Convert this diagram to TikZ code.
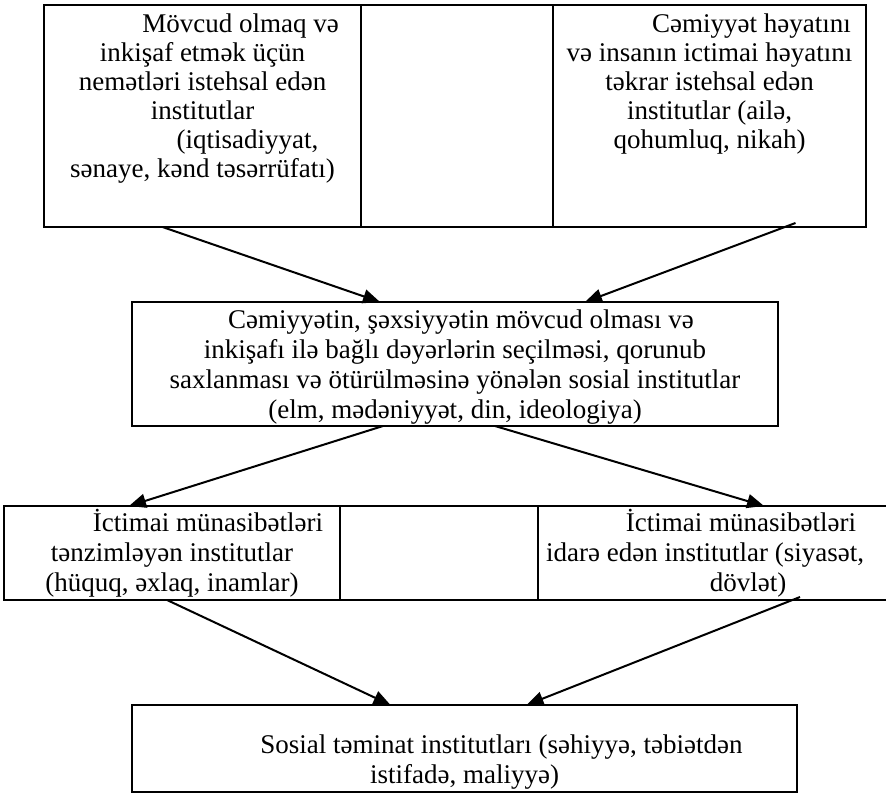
\documentclass[tikz,border=0pt]{standalone}
\usepackage{fontspec}
\setmainfont{Liberation Serif}
\usetikzlibrary{positioning,arrows.meta}

\begin{document}
\begin{tikzpicture}[x=1pt,y=1pt,
          cell/.style={draw, line width=1pt, inner sep=0pt, outer sep=0pt},
          txt/.style={align=center, inner sep=0pt, font=\fontsize{13.5}{14.5}\selectfont},
          widetxt/.style={txt, font=\fontsize{13.5}{15}\selectfont},
          arr/.style={line width=1pt, -{Triangle[length=8.5pt,width=7pt]}}]
          \useasboundingbox (0,0) rectangle (443,-397.5);
          \node[cell, anchor=north west, minimum width=158.5pt, minimum height=111pt] (tl) at (22,-2.5) {};
          \node[cell, right=0pt of tl, minimum width=96pt, minimum height=111pt] (tm) {};
          \node[cell, right=0pt of tm, minimum width=156.5pt, minimum height=111pt] (tr) {};
          \node[txt, below=4pt of tl.north] (tl-text) {\hspace*{38pt}Mövcud olmaq və\\ inkişaf etmək üçün\\ nemətləri istehsal edən\\ institutlar\\ \hspace*{45pt}(iqtisadiyyat,\\ sənaye, kənd təsərrüfatı)};
          \node[txt, below=4pt of tr.north] (tr-text) {\hspace*{42pt}Cəmiyyət həyatını\\ və insanın ictimai həyatını\\ təkrar istehsal edən\\ institutlar (ailə,\\ qohumluq, nikah)};
          \node[cell, anchor=north west, minimum width=323pt, minimum height=62pt] (mid) at (66,-151) {};
          \node[widetxt] (mid-text) at ([yshift=-1.5pt]mid.center) {\hspace*{6pt}Cəmiyyətin, şəxsiyyətin mövcud olması və\\ inkişafı ilə bağlı dəyərlərin seçilməsi, qorunub\\ saxlanması və ötürülməsinə yönələn sosial institutlar\\ (elm, mədəniyyət, din, ideologiya)};
          \node[cell, anchor=north west, minimum width=168pt, minimum height=47pt] (ml) at (2,-253) {};
          \node[cell, right=0pt of ml, minimum width=99pt, minimum height=47pt] (mm) {};
          \node[cell, right=0pt of mm, minimum width=176pt, minimum height=47pt] (mr) {};
          \node[widetxt] (ml-text) at (ml) {\hspace*{36pt}İctimai münasibətləri\\ tənzimləyən institutlar\\ (hüquq, əxlaq, inamlar)};
          \node[widetxt] (mr-text) at ([xshift=-4.5pt]mr.center) {\hspace*{36pt}İctimai münasibətləri\\ idarə edən institutlar (siyasət,\\ \hspace*{43pt}dövlət)};
          \node[cell, anchor=north west, minimum width=332.5pt, minimum height=43.5pt] (bot) at (66,-352.5) {};
          \node[widetxt, above=1pt of bot.south] (bot-text) {\hspace*{37pt}Sosial təminat institutları (səhiyyə, təbiətdən\\ istifadə, maliyyə)};
          \draw[arr] ([xshift=-20pt]tl.south) -- ([xshift=-37.5pt]mid.north);
          \draw[arr] ([xshift=43pt,yshift=2pt]tr.south) -- ([xshift=65pt]mid.north);
          \draw[arr] ([xshift=-36pt]mid.south) -- ([xshift=-21.5pt]ml.north);
          \draw[arr] ([xshift=20pt]mid.south) -- ([xshift=25pt]mr.north);
          \draw[arr] ([xshift=-2.5pt]ml.south) -- ([xshift=-37pt]bot.north);
          \draw[arr] ([xshift=43pt,yshift=1.5pt]mr.south) -- ([xshift=31pt]bot.north);
\end{tikzpicture}
\end{document}
